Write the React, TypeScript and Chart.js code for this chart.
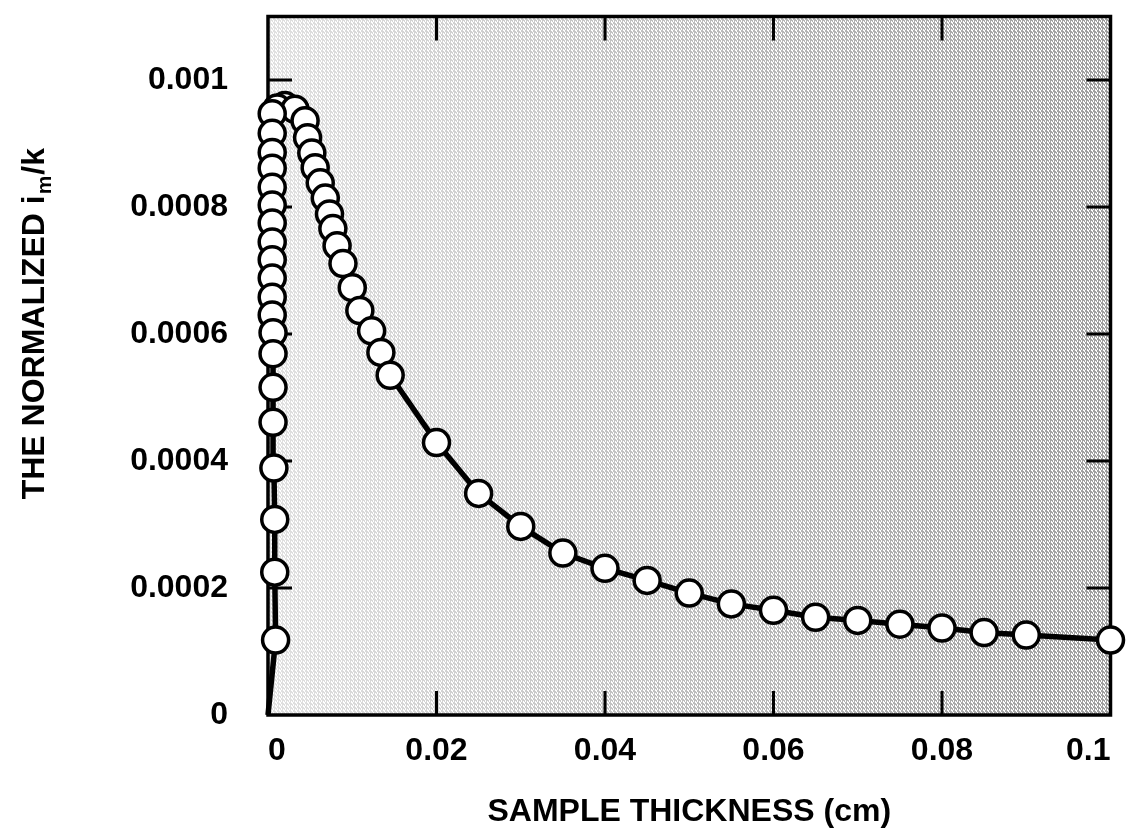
import React, { useEffect, useRef } from "react";
import { Chart, registerables } from "chart.js";

Chart.register(...registerables);

// Sample thickness (cm)
const thicknessCm = [
  0,
  0.0009, 0.0008, 0.0008, 0.0007, 0.0006, 0.0006, 0.0006, 0.0006, 0.0005, 0.0005,
  0.0005, 0.0005, 0.0005, 0.0005, 0.0005, 0.0005, 0.0005, 0.0005, 0.0005, 0.0005,
  0.0011, 0.002, 0.0032,
  0.0044, 0.0047, 0.0052, 0.0056, 0.0062, 0.0068, 0.0073, 0.0077, 0.0082, 0.0089,
  0.01, 0.0109, 0.0123, 0.0134, 0.0145,
  0.02, 0.025, 0.03, 0.035, 0.04, 0.045, 0.05, 0.055, 0.06, 0.065, 0.07, 0.075,
  0.08, 0.085, 0.09, 0.1,
];

// Normalized i_m / k
const normalizedImK = [
  0,
  0.000118, 0.000225, 0.000308, 0.000389, 0.000461, 0.000516, 0.000569, 0.000602, 0.00063, 0.000658,
  0.000688, 0.000717, 0.000745, 0.000775, 0.000803, 0.000831, 0.000861, 0.000886, 0.000916, 0.000947,
  0.000956, 0.00096, 0.000954,
  0.000936, 0.000909, 0.000885, 0.000862, 0.000838, 0.000814, 0.000789, 0.000766, 0.000739, 0.000711,
  0.000673, 0.000637, 0.000605, 0.000571, 0.000535,
  0.000429, 0.000349, 0.000297, 0.000255, 0.000231, 0.000212, 0.000192, 0.000175, 0.000165, 0.000154,
  0.000149, 0.000143, 0.000137, 0.00013, 0.000126, 0.000118,
];

const xTickValues = [0, 0.02, 0.04, 0.06, 0.08, 0.1];
const xTickLabels = ["0", "0.02", "0.04", "0.06", "0.08", "0.1"];
const yTickValues = [0, 0.0002, 0.0004, 0.0006, 0.0008, 0.001];
const yTickLabels = ["0", "0.0002", "0.0004", "0.0006", "0.0008", "0.001"];

const xAxisTitle = "SAMPLE THICKNESS (cm)";
const yTitleMain = "THE NORMALIZED i";
const yTitleSub = "m";
const yTitleEnd = "/k";

const FONT = "'Liberation Sans', Arial, Helvetica, sans-serif";

function makeStipple(w: number, h: number, left: number, right: number): HTMLCanvasElement {
  const tile = document.createElement("canvas");
  tile.width = 4;
  tile.height = 4;
  const tctx = tile.getContext("2d")!;
  tctx.fillStyle = "#000";
  const dots = [[0, 0], [2, 1], [1, 2], [3, 3], [2, 3]];
  for (const [dx, dy] of dots) tctx.fillRect(dx, dy, 1, 1);

  const off = document.createElement("canvas");
  off.width = Math.ceil(w);
  off.height = Math.ceil(h);
  const octx = off.getContext("2d")!;
  octx.fillStyle = octx.createPattern(tile, "repeat")!;
  octx.fillRect(0, 0, off.width, off.height);
  octx.globalCompositeOperation = "destination-in";
  const g = octx.createLinearGradient(0, 0, off.width, 0);
  g.addColorStop(0, `rgba(0,0,0,${left})`);
  g.addColorStop(0.45, `rgba(0,0,0,${(left + right) / 2})`);
  g.addColorStop(1, `rgba(0,0,0,${right})`);
  octx.fillStyle = g;
  octx.fillRect(0, 0, off.width, off.height);
  return off;
}

const framePlugin = {
  id: "frame",
  beforeDatasetsDraw(chart: any) {
    const { ctx, chartArea: a, scales } = chart;
    ctx.save();
    ctx.fillStyle = "#fff";
    ctx.fillRect(a.left, a.top, a.width, a.height);
    const stipple = makeStipple(a.width, a.height, 0.3, 0.95);
    ctx.globalAlpha = 0.8;
    ctx.drawImage(stipple, a.left, a.top);
    ctx.globalAlpha = 1;

    ctx.strokeStyle = "#000";
    ctx.lineWidth = 3;
    const L = 24;
    ctx.beginPath();
    for (const v of xTickValues.slice(1, -1)) {
      const px = scales.x.getPixelForValue(v);
      ctx.moveTo(px, a.bottom);
      ctx.lineTo(px, a.bottom - L);
      ctx.moveTo(px, a.top);
      ctx.lineTo(px, a.top + L);
    }
    for (const v of yTickValues.slice(1)) {
      const py = scales.y.getPixelForValue(v);
      ctx.moveTo(a.left, py);
      ctx.lineTo(a.left + L, py);
      ctx.moveTo(a.right, py);
      ctx.lineTo(a.right - L, py);
    }
    ctx.stroke();

    ctx.lineWidth = 3.5;
    ctx.strokeRect(a.left, a.top, a.width, a.height);
    ctx.restore();
  },
};

const yTitlePlugin = {
  id: "yTitle",
  afterDraw(chart: any) {
    const { ctx } = chart;
    ctx.save();
    ctx.fillStyle = "#000";
    ctx.textBaseline = "alphabetic";
    ctx.textAlign = "left";
    const big = `bold 32px ${FONT}`;
    const small = `bold 21px ${FONT}`;
    ctx.font = big;
    const w1 = ctx.measureText(yTitleMain).width;
    const w3 = ctx.measureText(yTitleEnd).width;
    ctx.font = small;
    const w2 = ctx.measureText(yTitleSub).width;
    const W = w1 + w2 + w3;
    const topEnd = 150;
    const baselineX = 44;
    ctx.translate(baselineX, topEnd + W);
    ctx.rotate(-Math.PI / 2);
    ctx.font = big;
    ctx.fillText(yTitleMain, 0, 0);
    ctx.font = small;
    ctx.fillText(yTitleSub, w1 + 1, 7);
    ctx.font = big;
    ctx.fillText(yTitleEnd, w1 + w2 + 2, 0);
    ctx.restore();
  },
};

export default function App() {
  const ref = useRef<HTMLCanvasElement>(null);

  useEffect(() => {
    const canvas = ref.current;
    if (!canvas) return;
    const points = thicknessCm.map((x, i) => ({ x, y: normalizedImK[i] }));
    const markers = points
      .filter((p) => !(p.x === 0 && p.y === 0))
      .sort((a, b) => b.y - a.y);

    const tickFont = { family: FONT, size: 32, weight: "bold" as const };

    const chart = new Chart(canvas, {
      type: "scatter",
      data: {
        datasets: [
          {
            data: markers,
            showLine: false,
            pointRadius: 13,
            pointBorderWidth: 3.5,
            pointBackgroundColor: "#fff",
            pointBorderColor: "#000",
            clip: false,
          } as any,
          {
            data: points,
            showLine: true,
            borderColor: "#000",
            borderWidth: 5.5,
            pointRadius: 0,
            tension: 0,
            clip: false,
          } as any,
        ],
      },
      options: {
        responsive: false,
        animation: false,
        events: [],
        layout: { padding: { top: 15, right: 15, left: 0, bottom: 0 } },
        plugins: { legend: { display: false }, tooltip: { enabled: false } },
        scales: {
          x: {
            type: "linear",
            min: 0,
            max: 0.1,
            afterBuildTicks: (s: any) => {
              s.ticks = xTickValues.map((value) => ({ value }));
            },
            afterFit: (s: any) => {
              s.height = 116;
              s.paddingLeft = 0;
              s.paddingRight = 0;
            },
            grid: { display: false, drawTicks: false },
            border: { display: false },
            ticks: {
              align: "inner",
              padding: 17,
              color: "#000",
              font: tickFont,
              maxRotation: 0,
              autoSkip: false,
              callback: (_v: any, i: number) => xTickLabels[i],
            },
            title: {
              display: true,
              text: xAxisTitle,
              color: "#000",
              font: tickFont,
              padding: 0,
            },
          },
          y: {
            type: "linear",
            min: 0,
            max: 0.0011,
            afterBuildTicks: (s: any) => {
              s.ticks = yTickValues.map((value) => ({ value }));
            },
            afterFit: (s: any) => {
              s.width = 268;
              s.paddingTop = 0;
              s.paddingBottom = 0;
            },
            grid: { display: false, drawTicks: false },
            border: { display: false },
            ticks: {
              padding: 40,
              color: "#000",
              font: tickFont,
              autoSkip: false,
              callback: (_v: any, i: number) => yTickLabels[i],
            },
          },
        },
      } as any,
      plugins: [framePlugin, yTitlePlugin],
    });

    return () => chart.destroy();
  }, []);

  return (
    <div style={{ position: "fixed", left: 0, top: 0, width: 1127, height: 831, background: "#fff" }}>
      <canvas ref={ref} width={1127} height={831} style={{ display: "block" }} />
    </div>
  );
}
